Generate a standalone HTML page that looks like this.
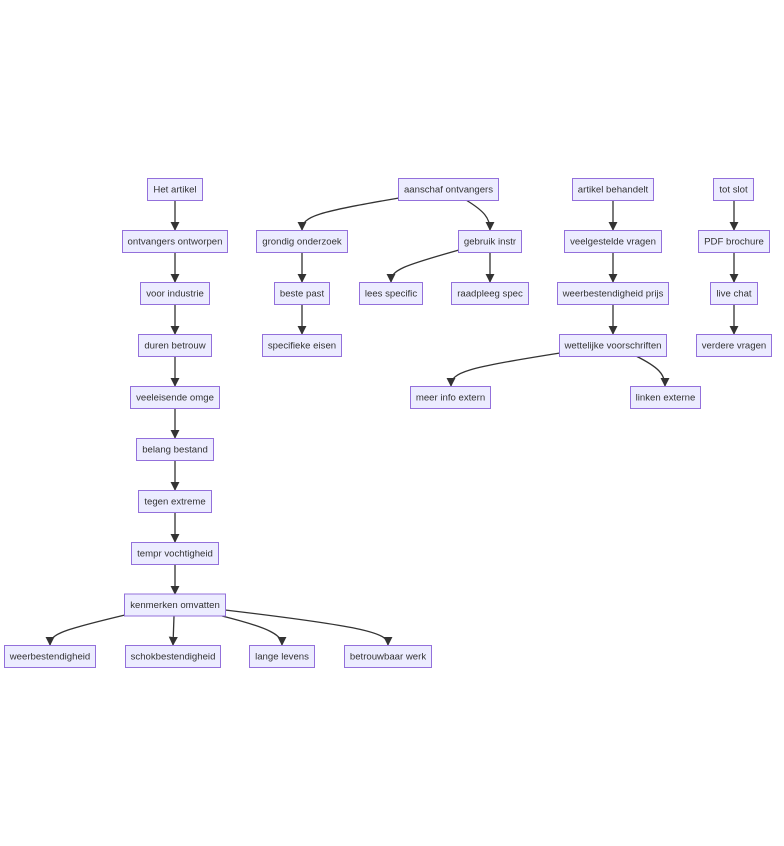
<!DOCTYPE html>
<html><head><meta charset="utf-8"><style>
html,body{margin:0;padding:0;background:#fff;}
svg{display:block;}
text{font-family:"Liberation Sans",Arial,sans-serif;font-size:9.6px;fill:#333;text-anchor:middle;}
rect{fill:#ECECFF;stroke:#9370DB;stroke-width:1;}
path{fill:none;stroke:#333;stroke-width:1.3;}
</style></head><body>
<svg width="784" height="846" viewBox="0 0 784 846" xmlns="http://www.w3.org/2000/svg">
<defs><marker id="a" viewBox="0 0 10 10" refX="9" refY="5" markerWidth="7" markerHeight="7" orient="auto"><path d="M0,0 L10,5 L0,10 z" style="fill:#333;stroke:none"/></marker></defs>
<g>
<path d="M175,200 L175,230" marker-end="url(#a)"/>
<path d="M175,252 L175,282" marker-end="url(#a)"/>
<path d="M175,304 L175,334" marker-end="url(#a)"/>
<path d="M175,356 L175,386" marker-end="url(#a)"/>
<path d="M175,408 L175,438" marker-end="url(#a)"/>
<path d="M175,460 L175,490" marker-end="url(#a)"/>
<path d="M175,512 L175,542" marker-end="url(#a)"/>
<path d="M175,564 L175,594" marker-end="url(#a)"/>
<path d="M125,615 C62,630 50,634 50,645" marker-end="url(#a)"/>
<path d="M174,616 L173,645" marker-end="url(#a)"/>
<path d="M222,616 C270,628 282,635 282,645" marker-end="url(#a)"/>
<path d="M225,610 C368,627 388,633 388,645" marker-end="url(#a)"/>
<path d="M302,252 L302,282" marker-end="url(#a)"/>
<path d="M302,304 L302,334" marker-end="url(#a)"/>
<path d="M399,198 C318,212 302,216 302,230" marker-end="url(#a)"/>
<path d="M466,200 C484,211 490,218 490,230" marker-end="url(#a)"/>
<path d="M459,250 C402,266 391,270 391,282" marker-end="url(#a)"/>
<path d="M490,252 L490,282" marker-end="url(#a)"/>
<path d="M613,200 L613,230" marker-end="url(#a)"/>
<path d="M613,252 L613,282" marker-end="url(#a)"/>
<path d="M613,304 L613,334" marker-end="url(#a)"/>
<path d="M560,353 C466,368 451,372 451,386" marker-end="url(#a)"/>
<path d="M636,356 C658,367 665,374 665,386" marker-end="url(#a)"/>
<path d="M734,200 L734,230" marker-end="url(#a)"/>
<path d="M734,252 L734,282" marker-end="url(#a)"/>
<path d="M734,304 L734,334" marker-end="url(#a)"/>
</g>
<g>
<rect x="147.5" y="178.5" width="55" height="22"/><text x="175" y="192.5">Het artikel</text>
<rect x="122.5" y="230.5" width="105" height="22"/><text x="175" y="244.5">ontvangers ontworpen</text>
<rect x="140.5" y="282.5" width="69" height="22"/><text x="175" y="296.5">voor industrie</text>
<rect x="138.5" y="334.5" width="73" height="22"/><text x="175" y="348.5">duren betrouw</text>
<rect x="130.5" y="386.5" width="89" height="22"/><text x="175" y="400.5">veeleisende omge</text>
<rect x="136.5" y="438.5" width="77" height="22"/><text x="175" y="452.5">belang bestand</text>
<rect x="138.5" y="490.5" width="73" height="22"/><text x="175" y="504.5">tegen extreme</text>
<rect x="131.5" y="542.5" width="87" height="22"/><text x="175" y="556.5">tempr vochtigheid</text>
<rect x="124.5" y="594" width="101" height="22"/><text x="175" y="608">kenmerken omvatten</text>
<rect x="4.5" y="645.5" width="91" height="22"/><text x="50" y="659.5">weerbestendigheid</text>
<rect x="125.5" y="645.5" width="95" height="22"/><text x="173" y="659.5">schokbestendigheid</text>
<rect x="249.5" y="645.5" width="65" height="22"/><text x="282" y="659.5">lange levens</text>
<rect x="344.5" y="645.5" width="87" height="22"/><text x="388" y="659.5">betrouwbaar werk</text>
<rect x="256.5" y="230.5" width="91" height="22"/><text x="302" y="244.5">grondig onderzoek</text>
<rect x="274.5" y="282.5" width="55" height="22"/><text x="302" y="296.5">beste past</text>
<rect x="262.5" y="334.5" width="79" height="22"/><text x="302" y="348.5">specifieke eisen</text>
<rect x="398.5" y="178.5" width="100" height="22"/><text x="448.5" y="192.5">aanschaf ontvangers</text>
<rect x="458.5" y="230.5" width="63" height="22"/><text x="490" y="244.5">gebruik instr</text>
<rect x="359.5" y="282.5" width="63" height="22"/><text x="391" y="296.5">lees specific</text>
<rect x="451.5" y="282.5" width="77" height="22"/><text x="490" y="296.5">raadpleeg spec</text>
<rect x="572.5" y="178.5" width="81" height="22"/><text x="613" y="192.5">artikel behandelt</text>
<rect x="564.5" y="230.5" width="97" height="22"/><text x="613" y="244.5">veelgestelde vragen</text>
<rect x="557.5" y="282.5" width="111" height="22"/><text x="613" y="296.5">weerbestendigheid prijs</text>
<rect x="559.5" y="334.5" width="107" height="22"/><text x="613" y="348.5">wettelijke voorschriften</text>
<rect x="410.5" y="386.5" width="80" height="22"/><text x="450.5" y="400.5">meer info extern</text>
<rect x="630.5" y="386.5" width="70" height="22"/><text x="665.5" y="400.5">linken externe</text>
<rect x="713.5" y="178.5" width="40" height="22"/><text x="733.5" y="192.5">tot slot</text>
<rect x="698.5" y="230.5" width="71" height="22"/><text x="734" y="244.5">PDF brochure</text>
<rect x="710.5" y="282.5" width="47" height="22"/><text x="734" y="296.5">live chat</text>
<rect x="696.5" y="334.5" width="75" height="22"/><text x="734" y="348.5">verdere vragen</text>
</g>
</svg>
</body></html>
